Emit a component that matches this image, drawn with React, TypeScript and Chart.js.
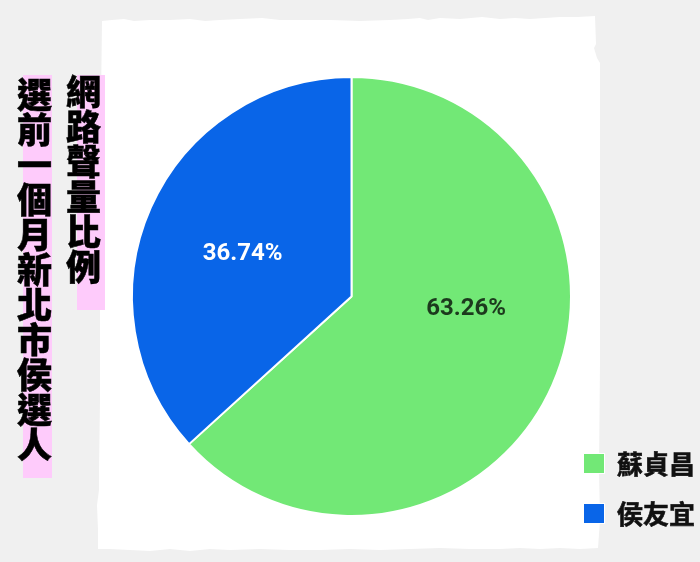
import { useEffect, useRef } from "react";
import { Chart, ArcElement, PieController } from "chart.js";
import type { Plugin } from "chart.js";

Chart.register(ArcElement, PieController);

// Share of online mentions, one month before the vote
const candidates = ["蘇貞昌", "侯友宜"];
const shares = [63.26, 36.74];
const sliceColors = ["#72e876", "#0965e8"];
const valueLabelColors = ["rgba(0,0,0,0.75)", "#ffffff"];
// nudges (degrees) for where each value label sits inside its slice
const valueLabelShift = [-18, -2];

const titleMain = "選前一個月新北市侯選人";
const titleSub = "網路聲量比例";

const PAGE_BG = "#f0f0f0";

// outline of the torn white sheet behind the pie
const paperEdge: [number, number][] = [
  [102, 21], [112, 20], [124, 19], [134, 21], [150, 20], [170, 20], [190, 19], [205, 21],
  [220, 20], [240, 19], [262, 18], [280, 20], [300, 20], [330, 20], [360, 21], [390, 20],
  [408, 19], [420, 18], [428, 20], [440, 18], [460, 19], [482, 17], [500, 19], [515, 18],
  [530, 19], [545, 18], [560, 17], [578, 17], [595, 16], [596, 44], [594, 48], [597, 58],
  [600, 63], [600, 200], [600, 360], [599, 470], [600, 520], [598, 548], [580, 549],
  [560, 548], [540, 549], [520, 548], [500, 549], [470, 549], [440, 548], [410, 549],
  [380, 550], [350, 549], [320, 550], [290, 550], [260, 549], [230, 550], [210, 549],
  [190, 551], [170, 549], [150, 551], [130, 550], [110, 549], [98, 549], [98, 530],
  [97, 505], [99, 490], [99, 470], [100, 400], [100, 300], [101, 200], [101, 100], [102, 21],
];

const paperPlugin: Plugin<"pie"> = {
  id: "paper",
  beforeDraw(chart) {
    const { ctx, width, height } = chart;
    ctx.save();
    ctx.fillStyle = PAGE_BG;
    ctx.fillRect(0, 0, width, height);
    ctx.beginPath();
    paperEdge.forEach(([x, y], i) => (i === 0 ? ctx.moveTo(x, y) : ctx.lineTo(x, y)));
    ctx.closePath();
    ctx.fillStyle = "#ffffff";
    ctx.fill();
    ctx.restore();
  },
};

const valueLabelPlugin: Plugin<"pie"> = {
  id: "valueLabels",
  afterDatasetsDraw(chart) {
    const { ctx } = chart;
    const meta = chart.getDatasetMeta(0);
    const values = chart.data.datasets[0].data as number[];
    ctx.save();
    ctx.font = "bold 24px Roboto, 'Noto Sans', sans-serif";
    ctx.textAlign = "center";
    ctx.textBaseline = "middle";
    meta.data.forEach((el: any, i) => {
      const { x, y, startAngle, endAngle, outerRadius } = el.getProps(
        ["x", "y", "startAngle", "endAngle", "outerRadius"],
        true
      );
      const mid = (startAngle + endAngle) / 2 + (valueLabelShift[i] * Math.PI) / 180;
      const r = outerRadius * 0.53;
      ctx.fillStyle = valueLabelColors[i];
      ctx.fillText(values[i].toFixed(2) + "%", x + Math.cos(mid) * r - 1, y + Math.sin(mid) * r + 1);
    });
    ctx.restore();
  },
};

const sideLegendPlugin: Plugin<"pie"> = {
  id: "sideLegend",
  afterDraw(chart) {
    const { ctx } = chart;
    const labels = chart.data.labels as string[];
    const colors = chart.data.datasets[0].backgroundColor as string[];
    const left = 583;
    const top = 453;
    const step = 50;
    const bw = 22;
    const bh = 21;
    ctx.save();
    ctx.font = "bold 26px 'Noto Sans CJK TC', sans-serif";
    ctx.textBaseline = "middle";
    ctx.textAlign = "left";
    labels.forEach((name, i) => {
      const y = top + i * step;
      ctx.fillStyle = colors[i];
      ctx.fillRect(left, y, bw, bh);
      ctx.strokeStyle = "#ffffff";
      ctx.lineWidth = 1;
      ctx.strokeRect(left + 0.5, y + 0.5, bw - 1, bh - 1);
      ctx.fillStyle = "#111111";
      ctx.strokeStyle = "#111111";
      ctx.lineWidth = 0.6;
      ctx.fillText(name, left + bw + 12, y + bh / 2 + 1);
      ctx.strokeText(name, left + bw + 12, y + bh / 2 + 1);
    });
    ctx.restore();
  },
};

const titleColumn = (
  text: string,
  left: number,
  top: number,
  hl: { left: number; top: number; width: number; height: number }
) => (
  <>
    <div
      style={{
        position: "absolute",
        left: hl.left,
        top: hl.top,
        width: hl.width,
        height: hl.height,
        background: "#fecbfb",
      }}
    />
    <div
      style={{
        position: "absolute",
        left,
        top,
        writingMode: "vertical-rl",
        fontFamily: "'Noto Sans CJK TC', sans-serif",
        fontWeight: 900,
        fontSize: 35,
        lineHeight: "35px",
        color: "#000000",
        WebkitTextStroke: "0.5px #000000",
        whiteSpace: "nowrap",
      }}
    >
      {text}
    </div>
  </>
);

export default function App() {
  const canvasRef = useRef<HTMLCanvasElement | null>(null);

  useEffect(() => {
    if (!canvasRef.current) return;
    const chart = new Chart(canvasRef.current, {
      type: "pie",
      data: {
        labels: candidates,
        datasets: [
          {
            data: shares,
            backgroundColor: sliceColors,
            borderColor: "#ffffff",
            borderWidth: 2,
          },
        ],
      },
      options: {
        responsive: false,
        animation: false,
        layout: { padding: { left: 131, right: 128, top: 76, bottom: 45 } },
        plugins: {
          legend: { display: false },
          tooltip: { enabled: false },
        },
      },
      plugins: [paperPlugin, valueLabelPlugin, sideLegendPlugin],
    });
    return () => chart.destroy();
  }, []);

  return (
    <div
      style={{
        position: "absolute",
        left: 0,
        top: 0,
        width: 700,
        height: 562,
        background: PAGE_BG,
        overflow: "hidden",
      }}
    >
      <canvas
        ref={canvasRef}
        width={700}
        height={562}
        style={{ position: "absolute", left: 0, top: 0, width: 700, height: 562 }}
      />
      {titleColumn(titleMain, 17, 77, { left: 23, top: 75, width: 29, height: 403 })}
      {titleColumn(titleSub, 66, 74, { left: 77, top: 75, width: 28, height: 235 })}
    </div>
  );
}
